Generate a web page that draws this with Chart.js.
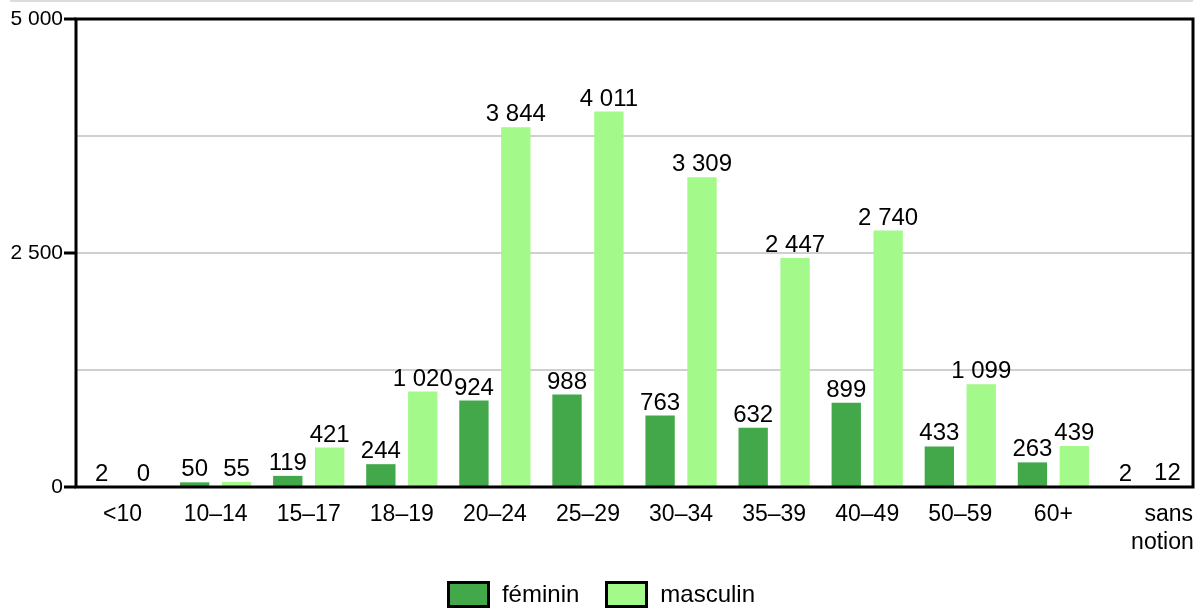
<!DOCTYPE html>
<html>
<head>
<meta charset="utf-8">
<script src="https://cdn.jsdelivr.net/npm/chart.js@4/dist/chart.umd.min.js"></script>
<style>
  html, body { margin: 0; padding: 0; background: #fff; }
  #wrap { width: 1202px; height: 608px; position: relative; }
  #legende {
    position: absolute; left: 0; top: 580px; width: 1202px;
    display: flex; justify-content: center; align-items: center;
    font-family: 'Liberation Sans', Arial, sans-serif; font-size: 24px; color: #000;
  }
  #legende span.case {
    display: inline-block; width: 37px; height: 21px; border: 3px solid #000;
    margin-right: 12px;
  }
  #legende span.item { display: inline-flex; align-items: center; margin: 0 13px; }
</style>
</head>
<body>
<div id="wrap">
  <canvas id="graphique"></canvas>
  <div id="legende"></div>
</div>
<script>
// categories d'age
var categories = ["<10", "10–14", "15–17", "18–19", "20–24", "25–29", "30–34", "35–39", "40–49", "50–59", "60+", ["       sans", "     notion"]];
// effectifs
var feminin = [2, 50, 119, 244, 924, 988, 763, 632, 899, 433, 263, 2];
var masculin = [0, 55, 421, 1020, 3844, 4011, 3309, 2447, 2740, 1099, 439, 12];
var yTicks = [0, 2500, 5000];

var police = "'Liberation Sans', Arial, sans-serif";

function nombre(v) {
    return String(v).replace(/\B(?=(\d{3})+(?!\d))/g, " ");
}

// valeurs au-dessus des barres + cadre
var etiquettes = {
    id: 'etiquettes',
    beforeDraw: function (chart) {
        var ctx = chart.ctx;
        ctx.save();
        ctx.strokeStyle = '#dcdcdc';
        ctx.lineWidth = 2;
        ctx.beginPath();
        ctx.moveTo(10, 1);
        ctx.lineTo(1193, 1);
        ctx.stroke();
        ctx.restore();
    },
    afterDatasetsDraw: function (chart) {
        var ctx = chart.ctx;
        ctx.save();
        ctx.font = "24px " + police;
        ctx.fillStyle = '#000';
        ctx.textAlign = 'center';
        ctx.textBaseline = 'alphabetic';
        chart.data.datasets.forEach(function (ds, i) {
            chart.getDatasetMeta(i).data.forEach(function (bar, j) {
                ctx.fillText(nombre(ds.data[j]), bar.x, bar.y - 6);
            });
        });
        var a = chart.chartArea;
        ctx.strokeStyle = '#000';
        ctx.lineWidth = 3;
        ctx.strokeRect(a.left, a.top, a.right - a.left, a.bottom - a.top);
        ctx.restore();
    }
};

var graphique = new Chart(document.getElementById('graphique'), {
    type: 'bar',
    data: {
        labels: categories,
        datasets: [{
            label: 'féminin',
            data: feminin,
            backgroundColor: '#42a84a',
            borderWidth: 0
        }, {
            label: 'masculin',
            data: masculin,
            backgroundColor: '#a3f989',
            borderWidth: 0
        }]
    },
    options: {
        responsive: true,
        maintainAspectRatio: false,
        animation: false,
        categoryPercentage: 0.9,
        barPercentage: 0.7,
        layout: { padding: { top: 19, right: 9, left: 0, bottom: 0 } },
        plugins: {
            tooltip: { enabled: false },
            legend: { display: false }
        },
        scales: {
            x: {
                grid: { display: false, drawTicks: false },
                border: { display: false },
                ticks: {
                    font: { size: 23, family: police },
                    color: '#000',
                    padding: 14,
                    maxRotation: 0,
                    autoSkip: false
                },
                afterFit: function (s) {
                    s.height = 121;
                    s.paddingLeft = 0;
                    s.paddingRight = 0;
                }
            },
            y: {
                min: 0,
                max: 5000,
                grid: {
                    color: function (c) {
                        var v = c.tick.value;
                        return (v === 0 || v === 5000) ? 'rgba(0,0,0,0)' : '#cfcfcf';
                    },
                    lineWidth: 2,
                    tickColor: function (c) {
                        return yTicks.indexOf(c.tick.value) >= 0 ? '#000' : 'rgba(0,0,0,0)';
                    },
                    tickLength: 12,
                    tickWidth: 3
                },
                border: { display: false },
                ticks: {
                    stepSize: 1250,
                    font: { size: 21, family: police },
                    color: '#000',
                    padding: 1,
                    callback: function (v) {
                        return yTicks.indexOf(v) >= 0 ? nombre(v) : '';
                    }
                },
                afterFit: function (s) { s.width = 76; }
            }
        }
    },
    plugins: [etiquettes]
});

// legende HTML
var legende = document.getElementById('legende');
graphique.data.datasets.forEach(function (ds) {
    var item = document.createElement('span');
    item.className = 'item';
    var c = document.createElement('span');
    c.className = 'case';
    c.style.background = ds.backgroundColor;
    item.appendChild(c);
    item.appendChild(document.createTextNode(ds.label));
    legende.appendChild(item);
});
</script>
</body>
</html>
